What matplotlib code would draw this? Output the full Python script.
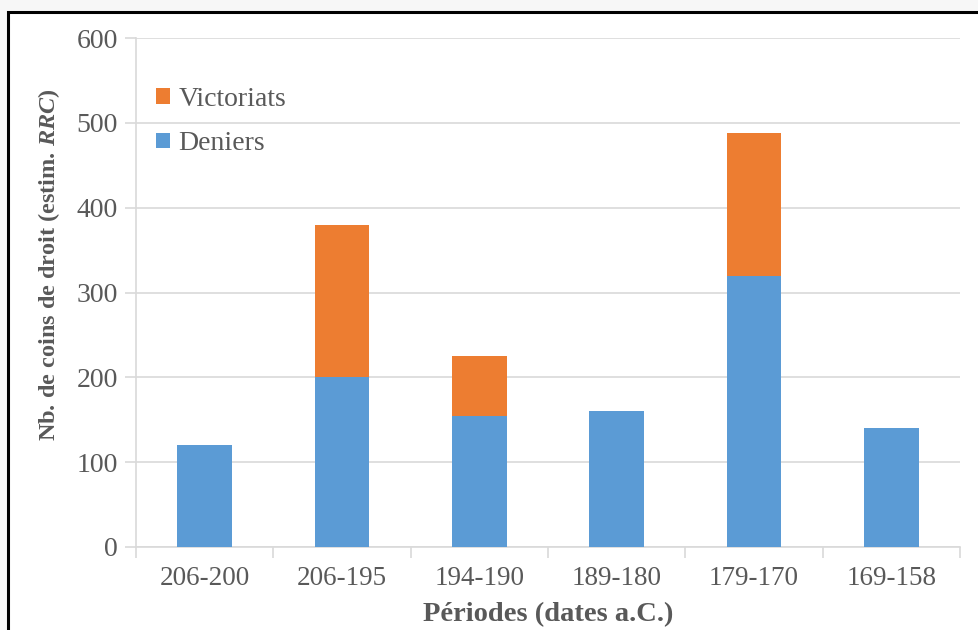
import matplotlib
matplotlib.use("Agg")
import matplotlib.pyplot as plt
from matplotlib.patches import Rectangle
import numpy as np

periodes = ["206-200", "206-195", "194-190", "189-180", "179-170", "169-158"]
deniers = [120, 200, 155, 160, 320, 140]
victoriats = [0, 180, 70, 0, 168, 0]

plt.rcParams['font.family'] = ['Liberation Serif', 'DejaVu Serif']
plt.rcParams['mathtext.fontset'] = 'custom'
plt.rcParams['mathtext.rm'] = 'Liberation Serif:bold'
plt.rcParams['mathtext.it'] = 'Liberation Serif:italic:bold'
plt.rcParams['mathtext.bf'] = 'Liberation Serif:bold'

grey = '#595959'
blue = '#5b9bd5'
orange = '#ed7d31'

fig = plt.figure(figsize=(9.79, 6.30), dpi=100)
fig.patch.set_facecolor('#f7f7f7')
# white chart area with a black frame (cut off on right and bottom)
fig.add_artist(Rectangle((8 / 979, -0.05), 1.1, (630 - 12) / 630 + 0.05,
                         transform=fig.transFigure, facecolor='white',
                         edgecolor='black', linewidth=2.2, zorder=0))

ax = fig.add_axes([136 / 979, 1 - 547 / 630, (960 - 136) / 979, (547 - 38) / 630])
ax.set_facecolor('none')

x = np.arange(len(periodes))
d = np.array(deniers)
v = np.array(victoriats)
ax.bar(x, d, width=0.4, color=blue, label='Deniers', zorder=3)
ax.bar(x, v, width=0.4, bottom=d, color=orange, label='Victoriats', zorder=3)

ax.set_xlim(-0.5, len(periodes) - 0.5)
ax.set_ylim(0, 600)
ax.set_yticks(range(0, 601, 100))
ax.yaxis.grid(True, color='#d9d9d9', linewidth=1.2, zorder=0)
ax.set_axisbelow(True)

ax.set_xticks(x)
ax.set_xticklabels(periodes)
ax.set_xticks(np.arange(-0.5, len(periodes), 1), minor=True)
ax.tick_params(axis='x', which='major', length=0, pad=14, labelsize=19.5, labelcolor=grey)
ax.tick_params(axis='x', which='minor', length=8, color='#d9d9d9', width=1.2)
ax.tick_params(axis='y', length=8, color='#d9d9d9', width=1.2, labelsize=20,
               labelcolor=grey, pad=5)

for s in ['top', 'right']:
    ax.spines[s].set_visible(False)
ax.spines['left'].set_color('#d9d9d9')
ax.spines['bottom'].set_color('#d9d9d9')
ax.spines['left'].set_linewidth(1.2)
ax.spines['bottom'].set_linewidth(1.2)

ax.set_ylabel(r"Nb. de coins de droit (estim. $\mathit{RRC}$)", fontsize=17.5,
              fontweight='bold', color=grey)
ax.yaxis.set_label_coords(-0.09, 0.554)
ax.set_xlabel("Périodes (dates a.C.)", fontsize=20.5, fontweight='bold',
              color=grey, labelpad=8)

handles, labels = ax.get_legend_handles_labels()
leg = ax.legend(handles[::-1], labels[::-1], loc='upper left',
                bbox_to_anchor=(-0.006, 0.953), frameon=False, fontsize=20,
                handlelength=0.5, handleheight=0.5, handletextpad=0.3,
                labelspacing=0.7, labelcolor=grey)

fig.savefig("out.png", dpi=100, facecolor=fig.get_facecolor())
